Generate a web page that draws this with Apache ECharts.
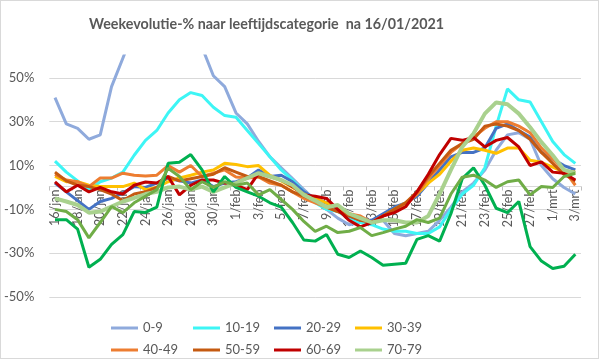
<!DOCTYPE html>
<html>
<head>
<meta charset="utf-8">
<script src="https://cdn.jsdelivr.net/npm/echarts@6/dist/echarts.min.js"></script>
<style>
html,body{margin:0;padding:0;background:#fff;}
#c{width:599px;height:359px;box-sizing:border-box;border:1px solid #d9d9d9;}
</style>
</head>
<body>
<div id="c"></div>
<script>
const categories = ['16/jan','17/jan','18/jan','19/jan','20/jan','21/jan','22/jan','23/jan','24/jan','25/jan','26/jan','27/jan','28/jan','29/jan','30/jan','31/jan',
'1/feb','2/feb','3/feb','4/feb','5/feb','6/feb','7/feb','8/feb','9/feb','10/feb','11/feb','12/feb','13/feb','14/feb','15/feb','16/feb','17/feb','18/feb','19/feb','20/feb','21/feb','22/feb','23/feb','24/feb','25/feb','26/feb','27/feb','28/feb',
'1/mrt','2/mrt','3/mrt'];

const s0_9   = [41,29,27,22,24,46,59,72,82,88,88,82,74,64,51,46,34,29,21,14,9,4,-1,-6,-10,-14,-17,-16,-15,-15,-21,-22,-21,-20,-15,-9,-2,2,8,17,24,25,22,10,4,0,-3];
const s10_19 = [12,7,3,-1,2.6,4.3,7,14.7,21.5,26,34,40,43.3,42,36.6,32.8,32,26,20,14,8,3.4,-2,-7,-10,-11,-14,-16,-17,-19,-20,-20,-21,-21,-18,-10,-3,1,9,28,45,40,39,30,21,15,11];
const s20_29 = [2,-2,-6,-10,-6.4,-5,-2.5,0.4,0,2,4.3,3,2,3.4,0.4,2,2.6,4.3,8,5,5.6,2.6,-2,-5,-7,-10,-13,-15,-15,-12,-9,-7,-4,2,8,14,16,16,18,27,29,26,23,16,13,10,8];
const s30_39 = [5,2.6,2.6,1,0.4,0.4,0.4,2,-1,0,2.6,4.3,5.6,7,8,11,10.5,9.5,10,5.5,3,0,-3,-5,-7,-9,-12,-14,-16,-13,-10,-7,-3,2,6,12,17,18,17,15.6,18,18,12.4,11.5,9.3,7,7];
const s40_49 = [6,3.4,2.6,0.4,4.3,4.3,6.5,5.6,5.2,5.6,10,7,10,5,6.5,8,4.8,4.3,4.8,2,1,-2,-5,-7,-9,-11,-12,-13,-16,-13,-11,-8,-3,4,10,16,20,23,27,30,30,28,25,18,13,8,1];
const s50_59 = [7,3,1,0.4,-1,-3,-6,-3,-2,0,5,3,4,5,6,9,7,5,5,3,1,-2,-4,-6,-9,-11,-13,-15,-16,-13,-10,-7,-2,5,11,17,20,22,28,29,28,26,22,16,11,6,3];
const s60_69 = [2.6,-2,1,-2,0,-2,-3,1,2.5,2,5,-3.4,1,3.4,3.4,2,1,-1,6.5,5,3.4,0.4,-3.4,-4,-5,-10,-15,-18,-16,-13,-11.5,-8.8,-2,6,15,22.4,21.5,22.8,18.5,21.5,22.8,18.5,10,11.7,7,6.5,3.4];
const s70_79 = [-5,-6.4,-8,-11.5,-11,-8.7,-6.4,-4.8,-3,-2,0,0.4,-1,0.4,-2,0,2,4.3,6.5,5,3.4,1,-3.4,-6,-9,-8,-12,-14,-16,-15,-15,-16,-16,-13,-3,8,18.5,24.6,33.7,38.8,38,33.7,27.5,20.7,14.7,8,6.5];
const s80_89 = [-14.7,-14.7,-19,-36.4,-32.8,-26,-21.5,-11,-11.4,-9,11,11.5,15,8,-2,5,0,-2,-4,-7,-9,-16,-24,-24.5,-21.5,-30.5,-32,-29,-32,-35.5,-35,-34.6,-23.7,-22,-24.5,-12,4,9,1,-9.5,-11.5,-6.4,-27,-33.6,-37,-36,-30.5];
const s90p   = [-10,-11,-14.7,-23,-16,-8.7,-11.5,-7,-4,-1,8.8,5,-1,2.6,0,2.6,1,2,-3.4,-1,-5.5,-10,-15.5,-20,-17.7,-20.6,-20,-18.3,-22,-20.6,-19,-17.7,-14.7,-16,-14,-3,4.7,5.6,3.4,0,2.6,3.4,-3.4,0.4,0,5,6.5];

const seriesNames = ['0-9','10-19','20-29','30-39','40-49','50-59','60-69','70-79','80-89','90+'];
const legendNames = ['0-9','10-19','20-29','30-39','40-49','50-59','60-69','70-79'];
const seriesData = [s0_9,s10_19,s20_29,s30_39,s40_49,s50_59,s60_69,s70_79,s80_89,s90p];
const colors = ['#8FAADC','#3DF5F5','#4472C4','#FFC000','#ED7D31','#C55A11','#C00000','#A9D18E','#00B050','#70AD47'];
const widths = [3,3,3,3,3,3,3,4,3,3];
const yTicks = {min:-50, max:60, interval:20};

const chart = echarts.init(document.getElementById('c'), null, {renderer:'canvas'});
const font = 'Lato, "Open Sans", sans-serif';
const legendX = [110,192,273,354];
const legendY = [319,341];
const legends = legendNames.map((n,i)=>({
  orient:'horizontal', left:legendX[i%4], top:legendY[Math.floor(i/4)], padding:0,
  itemGap:0, itemWidth:27, itemHeight:3, icon:'rect',
  textStyle:{color:'#595959', fontSize:13, fontFamily:font, lineHeight:16},
  data:[n]
}));

// zero line position: move the category axis up to the zero line
const gridTop = 55, gridBottomPx = 298;
const zeroPx = gridTop + (yTicks.max - 0) / (yTicks.max - yTicks.min) * (gridBottomPx - gridTop);

chart.setOption({
  animation:false,
  color: colors,
  title:{text:'Weekevolutie-% naar leeftijdscategorie  na 16/01/2021', left:83, top:11,
    textStyle:{color:'#595959', fontSize:14.3, fontWeight:'bold', fontFamily:font}},
  legend:legends,
  grid:{left:48, right:17, top:gridTop, bottom:359-gridBottomPx, containLabel:false},
  xAxis:{
    type:'category', data:categories, boundaryGap:true, position:'bottom',
    offset: -(gridBottomPx - zeroPx),
    axisLine:{onZero:false, lineStyle:{color:'#d9d9d9', width:1}},
    axisTick:{show:true, interval:1, length:4, lineStyle:{color:'#bfbfbf'}},
    axisLabel:{interval:1, rotate:90, margin:3, color:'#595959', fontSize:12.5, fontFamily:font}
  },
  yAxis:{
    type:'value', min:yTicks.min, max:yTicks.max, interval:yTicks.interval,
    axisLine:{show:false}, axisTick:{show:false},
    axisLabel:{formatter:'{value}%', margin:15, color:'#595959', fontSize:13, fontFamily:font, showMaxLabel:false},
    splitLine:{show:true, showMaxLine:false, lineStyle:{color:'#d9d9d9', width:1}}
  },
  series: seriesNames.map((n,i)=>({
    name:n, type:'line', data:seriesData[i], showSymbol:false, symbol:'none', smooth:false,
    lineStyle:{width:widths[i], color:colors[i]}, itemStyle:{color:colors[i]}, clip:true
  }))
});
</script>
</body>
</html>
